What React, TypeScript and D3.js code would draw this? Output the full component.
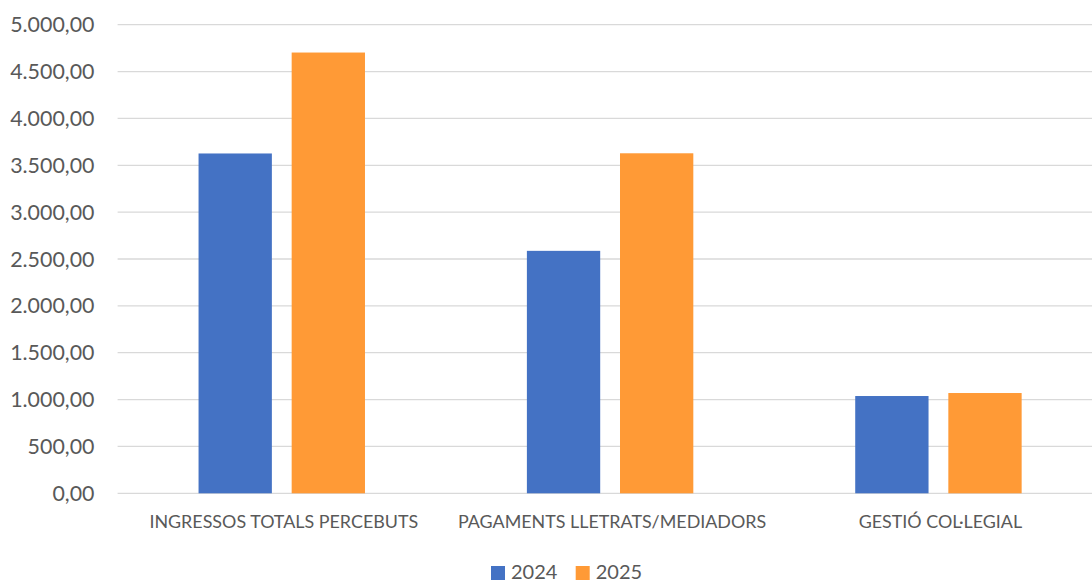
import React from "react";
import * as d3 from "d3";

const categories = ["INGRESSOS TOTALS PERCEBUTS", "PAGAMENTS LLETRATS/MEDIADORS", "GESTIÓ COL·LEGIAL"];
const seriesNames = ["2024", "2025"];
const values2024 = [3626, 2587, 1038];
const values2025 = [4703, 3628, 1070];
const yTicks = [0, 500, 1000, 1500, 2000, 2500, 3000, 3500, 4000, 4500, 5000];
const colors = ["#4472C4", "#FF9A36"];

const W = 1092;
const H = 581;
const FONT = "Lato, 'Open Sans', sans-serif";
const TEXT = "#595959";

export default function App() {
  const x = d3.scaleBand<string>().domain(categories).range([117.6, 1102.6]).padding(0);
  const y = d3.scaleLinear().domain([0, 5000]).range([493.3, 24.7]);
  const bw = x.bandwidth();
  const barW = bw * 0.2233;
  const gap = barW * 0.27;
  const fmt = (v: number) => {
    const s = d3.format(",.2f")(v);
    return s.replace(/,/g, "#").replace(".", ",").replace(/#/g, ".");
  };
  const series = [values2024, values2025];

  return (
    <svg width={W} height={H} style={{ position: "absolute", left: 0, top: 0, background: "#fff" }}>
      <rect width={W} height={H} fill="#fff" />
      {yTicks.map((t) => (
        <g key={t}>
          <line x1={117.6} x2={W} y1={y(t)} y2={y(t)} stroke="#D9D9D9" strokeWidth={1.3} />
          <text x={94.5} y={y(t) + 7.6} textAnchor="end" fontFamily={FONT} fontSize={21.4} fill={TEXT}>
            {fmt(t)}
          </text>
        </g>
      ))}
      {categories.map((c, i) => {
        const cx = (x(c) as number) + bw / 2;
        return (
          <g key={c}>
            {series.map((s, j) => {
              const left = j === 0 ? cx - gap / 2 - barW : cx + gap / 2;
              return (
                <rect
                  key={j}
                  x={left}
                  y={y(s[i])}
                  width={barW}
                  height={y(0) - y(s[i])}
                  fill={colors[j]}
                />
              );
            })}
            <text x={cx + 2} y={528} textAnchor="middle" fontFamily={FONT} fontSize={17.9} fill={TEXT}>
              {c}
            </text>
          </g>
        );
      })}
      {seriesNames.map((n, j) => {
        const lx = j === 0 ? 491 : 575.7;
        return (
          <g key={n}>
            <rect x={lx} y={566} width={14} height={14} fill={colors[j]} />
            <text x={lx + 20} y={579} fontFamily={FONT} fontSize={20} fill={TEXT}>
              {n}
            </text>
          </g>
        );
      })}
    </svg>
  );
}
